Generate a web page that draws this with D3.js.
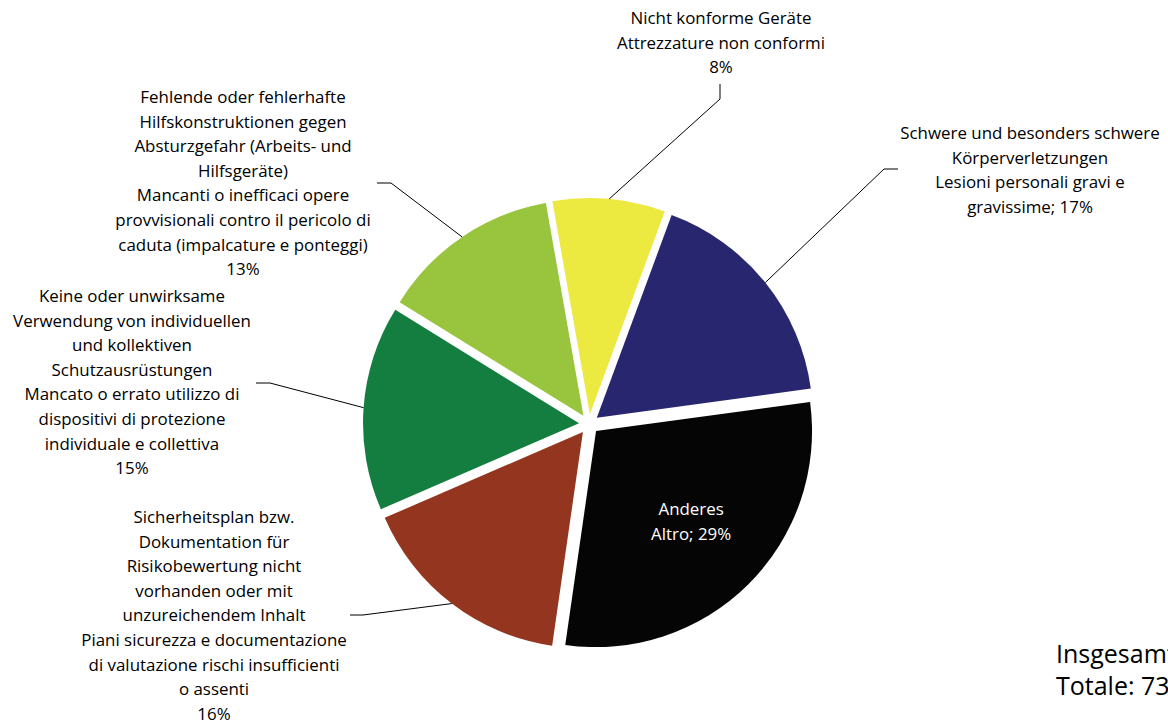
<!DOCTYPE html>
<html>
<head>
<meta charset="utf-8">
<script src="https://cdn.jsdelivr.net/npm/d3@7"></script>
<style>
  html, body { margin: 0; padding: 0; background: #fff; overflow: hidden; }
  svg { display: block; font-family: 'Open Sans', sans-serif; }
</style>
</head>
<body>
<div id="chart"></div>
<script>
// slices, clockwise from the top
var categories = ['yellow', 'blue', 'black', 'brown', 'green', 'lightgreen']
var values = [8.4, 17.2, 29.4, 16.2, 15.3, 13.4]
var colors = ['#ece940', '#28266f', '#050505', '#94361f', '#137e3f', '#98c53d']
var labelLines = [
  ['Nicht konforme Geräte', 'Attrezzature non conformi', '8%'],
  ['Schwere und besonders schwere', 'Körperverletzungen', 'Lesioni personali gravi e', 'gravissime; 17%'],
  ['Anderes', 'Altro; 29%'],
  ['Sicherheitsplan bzw.', 'Dokumentation für', 'Risikobewertung nicht', 'vorhanden oder mit', 'unzureichendem Inhalt',
    'Piani sicurezza e documentazione', 'di valutazione rischi insufficienti', 'o assenti', '16%'],
  ['Keine oder unwirksame', 'Verwendung von individuellen', 'und kollektiven', 'Schutzausrüstungen',
    'Mancato o errato utilizzo di', 'dispositivi di protezione', 'individuale e collettiva', '15%'],
  ['Fehlende oder fehlerhafte', 'Hilfskonstruktionen gegen', 'Absturzgefahr (Arbeits- und', 'Hilfsgeräte)',
    'Mancanti o inefficaci opere', 'provvisionali contro il pericolo di', 'caduta (impalcature e ponteggi)', '13%']
]
var totalLines = ['Insgesamt: 73', 'Totale: 73']

// label placement: text centre x, first baseline, leader elbow and leader start
var labelLayout = [
  { x: 721, y: 24, elbow: [720, 99], start: [720, 84] },
  { x: 1030, y: 139, elbow: [884, 169], start: [898, 169] },
  { inside: true },
  { x: 214, y: 523, elbow: [363, 615], start: [350, 615] },
  { x: 132, y: 302, elbow: [270, 383], start: [256, 383] },
  { x: 243, y: 103, elbow: [391, 183], start: [377, 183] }
]

var width = 1168
var height = 725
var cx = 589
var cy = 424
var radius = 216
var explode = 10
var lineHeight = 24.6
var fontSize = 16.9

var svg = d3.select('#chart').append('svg')
  .attr('width', width)
  .attr('height', height)

var pie = d3.pie().sort(null).value(function (d) { return d })
  .startAngle(-10 * Math.PI / 180)
  .endAngle(350 * Math.PI / 180)
var arcs = pie(values)
var arc = d3.arc().innerRadius(0).outerRadius(radius)
var labelArc = d3.arc().innerRadius(radius * 0.4).outerRadius(radius * 0.85)

var g = svg.append('g').attr('transform', 'translate(' + cx + ',' + cy + ')')

function midAngle (d) { return (d.startAngle + d.endAngle) / 2 }

g.selectAll('path.slice')
  .data(arcs)
  .enter()
  .append('path')
  .attr('class', 'slice')
  .attr('d', arc)
  .attr('fill', function (d, i) { return colors[i] })
  .attr('transform', function (d) {
    var a = midAngle(d)
    return 'translate(' + (explode * Math.sin(a)) + ',' + (-explode * Math.cos(a)) + ')'
  })

// leader lines end on the rim of the exploded slice
arcs.forEach(function (d, i) {
  var lay = labelLayout[i]
  var a = midAngle(d)
  var ox = explode * Math.sin(a)
  var oy = -explode * Math.cos(a)
  if (lay.inside) {
    var c = labelArc.centroid(d)
    var t = svg.append('text')
      .attr('text-anchor', 'middle')
      .attr('font-size', fontSize)
      .attr('fill', '#fff')
    labelLines[i].forEach(function (s, k) {
      t.append('tspan')
        .attr('x', cx + c[0] + ox)
        .attr('y', cy + c[1] + oy + (k - 0.5) * lineHeight + 0.5)
        .text(s)
    })
    return
  }
  var rim = [cx + (radius + explode) * Math.sin(a), cy - (radius + explode) * Math.cos(a)]
  svg.append('polyline')
    .attr('points', [lay.start, lay.elbow, rim].map(function (p) { return p.join(',') }).join(' '))
    .attr('fill', 'none')
    .attr('stroke', '#000')
    .attr('stroke-width', 1)

  var t2 = svg.append('text')
    .attr('text-anchor', 'middle')
    .attr('font-size', fontSize)
    .attr('fill', '#000')
  labelLines[i].forEach(function (s, k) {
    t2.append('tspan')
      .attr('x', lay.x)
      .attr('y', lay.y + k * lineHeight)
      .text(s)
  })
})

// total count, bottom right (runs past the edge as in the original)
svg.selectAll('text.total')
  .data(totalLines)
  .enter()
  .append('text')
  .attr('class', 'total')
  .attr('x', 1056)
  .attr('y', function (d, i) { return 663 + i * 32 })
  .attr('font-size', 25)
  .attr('fill', '#000')
  .text(function (d) { return d })
</script>
</body>
</html>
